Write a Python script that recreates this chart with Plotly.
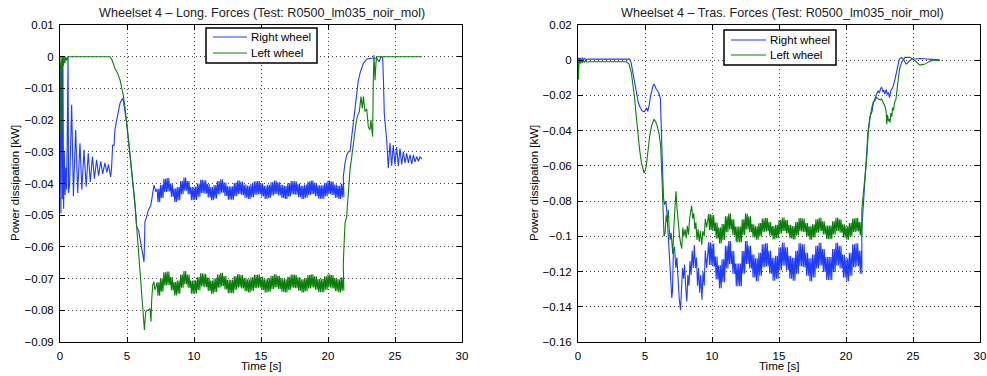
import numpy as np
import plotly.graph_objects as go

# ---------------- Data ----------------
# Time samples are (t [s], power [kW]) pairs; oscillating steady parts are
# given as upper / lower envelope values (fast oscillation extremes) on a
# regular sampling grid.

BAND_STEP = 0.25          # envelope sampling step [s]
CYCLES_PER_STEP = 2       # fast oscillation cycles drawn per envelope sample

# ---- Left plot: longitudinal forces ----
long_right_head = [
    (0.0, -0.02), (0.03, -0.049), (0.07, -0.0494), (0.1, -0.01), (0.14, 0.0), (0.18, -0.045),
    (0.22, -0.003), (0.27, -0.048), (0.32, -0.03), (0.38, -0.0436), (0.44, -0.035), (0.5, -0.042),
    (0.55, -0.005), (0.6, 0.0), (0.64, -0.043), (0.72, -0.040), (0.87, -0.0152), (1.0, -0.044),
    (1.17, -0.0231), (1.32, -0.043), (1.49, -0.0273), (1.63, -0.042), (1.79, -0.0294), (1.95, -0.041),
    (2.11, -0.0304), (2.26, -0.0395), (2.42, -0.0315), (2.57, -0.0385), (2.73, -0.0325), (2.88, -0.0375),
    (3.04, -0.033), (3.19, -0.037), (3.35, -0.0335), (3.5, -0.0365), (3.62, -0.034), (3.72, -0.0365),
    (3.78, -0.0379), (3.85, -0.035), (3.93, -0.0279), (4.03, -0.028), (4.1, -0.0231), (4.23, -0.020),
    (4.35, -0.0173), (4.48, -0.0147), (4.6, -0.0137), (4.68, -0.0131), (4.73, -0.014), (4.8, -0.016),
    (4.85, -0.0175), (4.98, -0.021), (5.22, -0.0305), (5.47, -0.040), (5.6, -0.047), (5.72, -0.0536),
    (5.8, -0.0545), (5.88, -0.055), (5.92, -0.0562), (6.0, -0.058), (6.09, -0.0604), (6.2, -0.063),
    (6.27, -0.0647), (6.31, -0.058), (6.34, -0.052), (6.47, -0.0505), (6.59, -0.0484), (6.7, -0.0475),
    (6.77, -0.047), (6.85, -0.045), (6.92, -0.0431), (7.01, -0.0405), (7.08, -0.0415), (7.14, -0.0426),
]
long_right_band_start = 7.25
long_right_upper = [
    -0.0417, -0.0404, -0.0385, -0.0383, -0.0400, -0.0416, -0.0411, -0.0392, -0.0381, -0.0392,
    -0.0411, -0.0410, -0.0400, -0.0388, -0.0390, -0.0402, -0.0411, -0.0405, -0.0392, -0.0387,
    -0.0397, -0.0409, -0.0409, -0.0398, -0.0391, -0.0394, -0.0403, -0.0407, -0.0401, -0.0393,
    -0.0392, -0.0399, -0.0407, -0.0404, -0.0396, -0.0391, -0.0396, -0.0404, -0.0407, -0.0399,
    -0.0392, -0.0393, -0.0401, -0.0407, -0.0403, -0.0394, -0.0391, -0.0398, -0.0406, -0.0406,
    -0.0398, -0.0391, -0.0394, -0.0403, -0.0407, -0.0401,
]
long_right_lower = [
    -0.0459, -0.0446, -0.0427, -0.0425, -0.0442, -0.0458, -0.0453, -0.0434, -0.0423, -0.0434,
    -0.0453, -0.0452, -0.0442, -0.0430, -0.0432, -0.0444, -0.0453, -0.0447, -0.0434, -0.0429,
    -0.0439, -0.0451, -0.0451, -0.0440, -0.0433, -0.0436, -0.0445, -0.0449, -0.0443, -0.0435,
    -0.0434, -0.0441, -0.0449, -0.0446, -0.0438, -0.0433, -0.0438, -0.0446, -0.0449, -0.0441,
    -0.0434, -0.0435, -0.0443, -0.0449, -0.0445, -0.0436, -0.0433, -0.0440, -0.0448, -0.0448,
    -0.0440, -0.0433, -0.0436, -0.0445, -0.0449, -0.0443,
]
long_right_tail = [
    (21.14, -0.0379), (21.27, -0.0336), (21.4, -0.031), (21.52, -0.030), (21.64, -0.030),
    (21.75, -0.026), (21.89, -0.021), (22.0, -0.016), (22.14, -0.0105), (22.25, -0.0078),
    (22.39, -0.0052), (22.5, -0.0035), (22.64, -0.0021), (22.89, -0.0008), (23.13, -0.0005),
    (23.63, -0.0005), (23.75, -0.001), (23.83, -0.0016), (23.93, 0.0), (24.08, -0.0002),
    (24.14, -0.008), (24.2, -0.0179), (24.38, -0.0263), (24.5, -0.0352), (24.63, -0.0272),
    (24.75, -0.0345), (24.87, -0.0279), (25.0, -0.034), (25.12, -0.0285), (25.25, -0.0345),
    (25.37, -0.029), (25.5, -0.034), (25.62, -0.030), (25.75, -0.0335), (25.87, -0.0305),
    (26.0, -0.0335), (26.12, -0.031), (26.25, -0.0338), (26.37, -0.031), (26.5, -0.0332),
    (26.62, -0.0315), (26.75, -0.033), (26.87, -0.0316), (27.0, -0.0322),
]

long_left_head = [
    (0.0, 0.0), (0.02, -0.024), (0.05, -0.0242), (0.08, -0.003), (0.12, -0.001), (0.16, -0.004),
    (0.2, 0.0), (0.25, -0.003), (0.3, 0.0), (0.36, -0.002), (0.42, 0.0), (0.5, -0.0012), (0.6, 0.0),
    (3.73, 0.0), (3.9, -0.0012), (4.1, -0.0037), (4.3, -0.0052), (4.48, -0.0073), (4.6, -0.0095),
    (4.72, -0.0121), (4.85, -0.016), (4.98, -0.021), (5.1, -0.0255), (5.22, -0.0305), (5.35, -0.035),
    (5.47, -0.040), (5.6, -0.0465), (5.72, -0.0536), (5.85, -0.061), (5.97, -0.0683), (6.07, -0.0735),
    (6.17, -0.0789), (6.24, -0.083), (6.3, -0.0862), (6.35, -0.083), (6.4, -0.0804), (6.5, -0.080),
    (6.6, -0.0799), (6.72, -0.0795), (6.76, -0.081), (6.79, -0.0836), (6.84, -0.0768), (6.92, -0.072),
    (7.01, -0.071), (7.08, -0.0735), (7.16, -0.0726),
]
long_left_band_start = 7.25
long_left_upper = [
    -0.0712, -0.0699, -0.0680, -0.0678, -0.0695, -0.0711, -0.0706, -0.0687, -0.0676, -0.0687,
    -0.0706, -0.0705, -0.0695, -0.0683, -0.0685, -0.0697, -0.0706, -0.0700, -0.0687, -0.0682,
    -0.0692, -0.0704, -0.0704, -0.0693, -0.0686, -0.0689, -0.0698, -0.0702, -0.0696, -0.0688,
    -0.0687, -0.0694, -0.0702, -0.0699, -0.0691, -0.0686, -0.0691, -0.0699, -0.0702, -0.0694,
    -0.0687, -0.0688, -0.0696, -0.0702, -0.0698, -0.0689, -0.0686, -0.0693, -0.0701, -0.0701,
    -0.0693, -0.0686, -0.0689, -0.0698, -0.0702, -0.0696,
]
long_left_lower = [
    -0.0754, -0.0741, -0.0722, -0.0720, -0.0737, -0.0753, -0.0748, -0.0729, -0.0718, -0.0729,
    -0.0748, -0.0747, -0.0737, -0.0725, -0.0727, -0.0739, -0.0748, -0.0742, -0.0729, -0.0724,
    -0.0734, -0.0746, -0.0746, -0.0735, -0.0728, -0.0731, -0.0740, -0.0744, -0.0738, -0.0730,
    -0.0729, -0.0736, -0.0744, -0.0741, -0.0733, -0.0728, -0.0733, -0.0741, -0.0744, -0.0736,
    -0.0729, -0.0730, -0.0738, -0.0744, -0.0740, -0.0731, -0.0728, -0.0735, -0.0743, -0.0743,
    -0.0735, -0.0728, -0.0731, -0.0740, -0.0744, -0.0738,
]
long_left_tail = [
    (21.14, -0.0657), (21.19, -0.060), (21.27, -0.0526), (21.39, -0.0505), (21.52, -0.041),
    (21.64, -0.0357), (21.76, -0.032), (21.89, -0.0284), (22.0, -0.024), (22.09, -0.021),
    (22.19, -0.0189), (22.34, -0.0173), (22.46, -0.0126), (22.56, -0.0163), (22.64, -0.0126),
    (22.76, -0.0173), (22.89, -0.0165), (23.01, -0.0221), (23.13, -0.0231), (23.2, -0.020),
    (23.26, -0.022), (23.33, -0.0252), (23.38, -0.0074), (23.43, 0.0005), (23.47, -0.003),
    (23.51, -0.0074), (23.58, -0.0021), (23.63, 0.0), (27.0, 0.0),
]

# ---- Right plot: transversal forces ----
tras_right_head = [
    (0.0, -0.001), (0.05, 0.0015), (0.1, -0.0005), (0.17, 0.0013), (0.25, 0.0001), (0.33, 0.0012),
    (0.42, 0.0003), (0.5, 0.001), (0.6, 0.0005), (0.8, 0.0007), (3.85, 0.0006), (3.95, -0.001),
    (4.05, -0.005), (4.2, -0.012), (4.35, -0.019), (4.5, -0.024), (4.65, -0.027), (4.8, -0.0288),
    (4.95, -0.0293), (5.05, -0.0275), (5.12, -0.027), (5.2, -0.029), (5.3, -0.026), (5.4, -0.021),
    (5.5, -0.017), (5.6, -0.0145), (5.68, -0.0136), (5.75, -0.015), (5.85, -0.0165), (5.95, -0.0175),
    (6.05, -0.019), (6.15, -0.022), (6.22, -0.035), (6.3, -0.06), (6.38, -0.078), (6.45, -0.082),
    (6.55, -0.080), (6.62, -0.085), (6.7, -0.095), (6.8, -0.11), (6.9, -0.125), (7.0, -0.135),
    (7.05, -0.131), (7.12, -0.108), (7.2, -0.106), (7.3, -0.118), (7.38, -0.112), (7.45, -0.125),
    (7.55, -0.135), (7.65, -0.142), (7.72, -0.128), (7.8, -0.118), (7.88, -0.124), (7.95, -0.116),
    (8.05, -0.13), (8.12, -0.137), (8.2, -0.122), (8.28, -0.128), (8.36, -0.114), (8.44, -0.122),
    (8.52, -0.108), (8.6, -0.118), (8.68, -0.105), (8.76, -0.118), (8.84, -0.112), (8.92, -0.128),
    (9.0, -0.118), (9.08, -0.132), (9.16, -0.122), (9.25, -0.136), (9.33, -0.12), (9.42, -0.128),
    (9.5, -0.108), (9.6, -0.118),
]
tras_right_band_start = 9.75
tras_right_upper = [
    -0.1033, -0.1041, -0.1115, -0.1164, -0.1130, -0.1053, -0.1027, -0.1083, -0.1154, -0.1154,
    -0.1083, -0.1027, -0.1053, -0.1103, -0.1125, -0.1093, -0.1045, -0.1040, -0.1082, -0.1122,
    -0.1111, -0.1062, -0.1035, -0.1062, -0.1111, -0.1122, -0.1082, -0.1040, -0.1045, -0.1093,
    -0.1125, -0.1103, -0.1053, -0.1036, -0.1072, -0.1118, -0.1118, -0.1072, -0.1036, -0.1053,
    -0.1103, -0.1125, -0.1093, -0.1045, -0.1040, -0.1082,
]
tras_right_lower = [
    -0.1163, -0.1171, -0.1245, -0.1294, -0.1260, -0.1183, -0.1157, -0.1213, -0.1284, -0.1284,
    -0.1213, -0.1157, -0.1183, -0.1233, -0.1255, -0.1223, -0.1175, -0.1170, -0.1212, -0.1252,
    -0.1241, -0.1192, -0.1165, -0.1192, -0.1241, -0.1252, -0.1212, -0.1170, -0.1175, -0.1223,
    -0.1255, -0.1233, -0.1183, -0.1166, -0.1202, -0.1248, -0.1248, -0.1202, -0.1166, -0.1183,
    -0.1233, -0.1255, -0.1223, -0.1175, -0.1170, -0.1212,
]
tras_right_tail = [
    (21.18, -0.096), (21.24, -0.0886), (21.32, -0.079), (21.42, -0.0677), (21.54, -0.0563),
    (21.65, -0.040), (21.79, -0.032), (21.95, -0.029), (22.05, -0.024), (22.16, -0.0212),
    (22.3, -0.019), (22.4, -0.0175), (22.5, -0.0185), (22.58, -0.016), (22.66, -0.0155),
    (22.75, -0.018), (22.82, -0.017), (22.9, -0.0193), (23.0, -0.0165), (23.08, -0.0195),
    (23.16, -0.0183), (23.25, -0.0212), (23.35, -0.017), (23.45, -0.016), (23.53, -0.0146),
    (23.65, -0.011), (23.78, -0.007), (23.9, -0.002), (23.98, 0.0006), (24.15, 0.0016),
    (24.3, 0.0005), (24.45, -0.0018), (24.53, -0.0022), (24.65, -0.001), (24.9, 0.0006),
    (25.5, 0.001), (26.0, 0.0008), (27.0, 0.0002),
]

tras_left_head = [
    (0.0, 0.0), (0.03, -0.011), (0.07, -0.002), (0.12, 0.001), (0.18, -0.002), (0.25, 0.0005),
    (0.32, -0.0015), (0.4, 0.0), (0.48, -0.0012), (0.56, -0.0002), (0.65, -0.001), (1.0, -0.0009),
    (3.6, -0.0009), (3.8, -0.002), (3.98, -0.007), (4.1, -0.013), (4.23, -0.022), (4.35, -0.032),
    (4.48, -0.043), (4.6, -0.051), (4.73, -0.058), (4.85, -0.0625), (4.93, -0.064), (5.02, -0.0625),
    (5.1, -0.060), (5.2, -0.053), (5.35, -0.043), (5.5, -0.037), (5.6, -0.034), (5.67, -0.0335),
    (5.8, -0.035), (5.92, -0.0374), (6.05, -0.042), (6.17, -0.0487), (6.28, -0.07), (6.35, -0.09),
    (6.42, -0.1), (6.5, -0.098), (6.58, -0.088), (6.65, -0.092), (6.74, -0.085), (6.8, -0.095),
    (6.87, -0.102), (6.95, -0.098), (7.07, -0.11), (7.15, -0.095), (7.22, -0.082), (7.31, -0.0744),
    (7.4, -0.085), (7.49, -0.094), (7.58, -0.1), (7.66, -0.104), (7.74, -0.107), (7.82, -0.095),
    (7.9, -0.1), (7.99, -0.096), (8.08, -0.101), (8.16, -0.094), (8.25, -0.099), (8.33, -0.09),
    (8.4, -0.086), (8.48, -0.0825), (8.56, -0.09), (8.64, -0.087), (8.72, -0.096), (8.8, -0.092),
    (8.88, -0.102), (8.96, -0.096), (9.05, -0.103), (9.13, -0.097), (9.23, -0.1047), (9.32, -0.097),
    (9.42, -0.1), (9.5, -0.09), (9.6, -0.095),
]
tras_left_band_start = 9.75
tras_left_upper = [
    -0.0874, -0.0879, -0.0922, -0.0950, -0.0930, -0.0886, -0.0871, -0.0903, -0.0944, -0.0944,
    -0.0903, -0.0871, -0.0886, -0.0931, -0.0943, -0.0925, -0.0899, -0.0896, -0.0919, -0.0942,
    -0.0935, -0.0908, -0.0893, -0.0908, -0.0935, -0.0942, -0.0919, -0.0896, -0.0899, -0.0925,
    -0.0943, -0.0931, -0.0903, -0.0894, -0.0914, -0.0939, -0.0939, -0.0914, -0.0894, -0.0903,
    -0.0931, -0.0943, -0.0925, -0.0899, -0.0896, -0.0919,
]
tras_left_lower = [
    -0.0964, -0.0969, -0.1012, -0.1040, -0.1020, -0.0976, -0.0961, -0.0993, -0.1034, -0.1034,
    -0.0993, -0.0961, -0.0976, -0.1007, -0.1019, -0.1001, -0.0975, -0.0972, -0.0995, -0.1018,
    -0.1011, -0.0984, -0.0969, -0.0984, -0.1011, -0.1018, -0.0995, -0.0972, -0.0975, -0.1001,
    -0.1019, -0.1007, -0.0979, -0.0970, -0.0990, -0.1015, -0.1015, -0.0990, -0.0970, -0.0979,
    -0.1007, -0.1019, -0.1001, -0.0975, -0.0972, -0.0995,
]
tras_left_tail = [
    (21.18, -0.085), (21.25, -0.0791), (21.42, -0.0658), (21.54, -0.0563), (21.65, -0.042),
    (21.79, -0.0326), (21.95, -0.026), (22.05, -0.0235), (22.16, -0.0231), (22.3, -0.021),
    (22.41, -0.0221), (22.55, -0.0225), (22.65, -0.022), (22.78, -0.024), (22.9, -0.026),
    (22.99, -0.0288), (23.04, -0.0364), (23.1, -0.031), (23.16, -0.0345), (23.22, -0.0333),
    (23.28, -0.0354), (23.35, -0.030), (23.42, -0.032), (23.48, -0.0269), (23.55, -0.0285),
    (23.62, -0.024), (23.73, -0.0221), (23.82, -0.016), (23.9, -0.0108), (24.0, -0.005),
    (24.15, -0.0012), (24.4, 0.0016), (24.78, 0.0016), (25.15, -0.0003), (25.52, -0.0028),
    (25.9, -0.0022), (26.2, -0.0008), (26.52, 0.0002), (27.0, -0.0003),
]

titles = ["Wheelset 4 \u2013 Long. Forces (Test: R0500_lm035_noir_mol)",
          "Wheelset 4 \u2013 Tras. Forces (Test: R0500_lm035_noir_mol)"]
series_names = ["Right wheel", "Left wheel"]
x_label = "Time [s]"
y_label = "Power dissipation [kW]"
x_ticks = [0, 5, 10, 15, 20, 25, 30]
y_ticks_left = [0.01, 0, -0.01, -0.02, -0.03, -0.04, -0.05, -0.06, -0.07, -0.08, -0.09]
y_ticks_right = [0.02, 0, -0.02, -0.04, -0.06, -0.08, -0.1, -0.12, -0.14, -0.16]


def build(head, band_start, upper, lower, tail):
    t = [p[0] for p in head]
    v = [p[1] for p in head]
    n = 2 * CYCLES_PER_STEP
    for i, (u, lo) in enumerate(zip(upper, lower)):
        tb = band_start + BAND_STEP * i
        for k in range(n):
            t.append(tb + BAND_STEP * k / n)
            v.append(u if k % 2 == 0 else lo)
    t += [p[0] for p in tail]
    v += [p[1] for p in tail]
    return t, v


BLUE = "#1f3cff"
GREEN = "#0a800a"
COLORS = [BLUE, GREEN]
FONT = "Liberation Sans, Arial, Helvetica, sans-serif"
LW = 1.1

fig = go.Figure()
sets = [
    ("x", "y",
     build(long_right_head, long_right_band_start, long_right_upper, long_right_lower, long_right_tail),
     build(long_left_head, long_left_band_start, long_left_upper, long_left_lower, long_left_tail)),
    ("x2", "y2",
     build(tras_right_head, tras_right_band_start, tras_right_upper, tras_right_lower, tras_right_tail),
     build(tras_left_head, tras_left_band_start, tras_left_upper, tras_left_lower, tras_left_tail)),
]
for xa, ya, right, left in sets:
    fig.add_trace(go.Scatter(x=right[0], y=right[1], mode="lines", name=series_names[0],
                             line=dict(color=BLUE, width=LW), xaxis=xa, yaxis=ya, showlegend=False))
    fig.add_trace(go.Scatter(x=left[0], y=left[1], mode="lines", name=series_names[1],
                             line=dict(color=GREEN, width=LW), xaxis=xa, yaxis=ya, showlegend=False))

W, H = 987, 376
ydom = [1 - 342 / H, 1 - 25 / H]
TICKFONT = dict(size=11.5, color="black", family=FONT)
common_x = dict(range=[0, 30], tickvals=x_ticks, showgrid=True, gridcolor="#444",
                griddash="1px,3px", gridwidth=1, zeroline=False, showline=True,
                linecolor="black", linewidth=1, mirror="ticks", ticks="inside",
                ticklen=5, tickcolor="black", ticklabelstandoff=3, tickfont=TICKFONT,
                automargin=False)
common_y = dict(showgrid=True, gridcolor="#444", griddash="1px,3px", gridwidth=1,
                zeroline=False, showline=True, linecolor="black", linewidth=1, mirror="ticks",
                ticks="inside", ticklen=5, tickcolor="black", ticklabelstandoff=3,
                tickfont=TICKFONT, automargin=False)

fig.update_layout(
    width=W, height=H, autosize=False, margin=dict(l=0, r=0, t=0, b=0, pad=0, autoexpand=False),
    paper_bgcolor="white", plot_bgcolor="white",
    font=dict(family=FONT, size=11, color="black"),
    xaxis=dict(domain=[60 / W, 462 / W], anchor="y", **common_x),
    yaxis=dict(domain=ydom, anchor="x", range=[-0.09, 0.01], tickvals=y_ticks_left, **common_y),
    xaxis2=dict(domain=[578 / W, 980 / W], anchor="y2", **common_x),
    yaxis2=dict(domain=ydom, anchor="x2", range=[-0.16, 0.02], tickvals=y_ticks_right, **common_y),
    showlegend=False,
)

ann = []
shapes = []
for cx, title in [(262, titles[0]), (782, titles[1])]:
    ann.append(dict(text=title, x=cx / W, y=1 - 13 / H, xref="paper", yref="paper",
                    xanchor="center", yanchor="middle",
                    showarrow=False, font=dict(size=12.6, color="#222", family=FONT)))
for cx in [261, 779]:
    ann.append(dict(text=x_label, x=cx / W, y=1 - 366 / H, xref="paper", yref="paper",
                    xanchor="center", yanchor="middle",
                    showarrow=False, font=dict(size=11.5, color="black", family=FONT)))
for cx in [15, 534]:
    ann.append(dict(text=y_label, x=cx / W, y=1 - 183 / H, xref="paper", yref="paper",
                    xanchor="center", yanchor="middle",
                    textangle=-90, showarrow=False, font=dict(size=11.5, color="black", family=FONT)))

# Legend boxes (MATLAB style): box, sample lines and labels, in pixel layout positions
legend_boxes = [
    dict(x0=206, x1=317, y0=28, y1=63, lx0=213, lx1=247, tx=249, rows=[37, 53]),
    dict(x0=724, x1=836, y0=30, y1=65, lx0=731, lx1=766, tx=768, rows=[40, 55]),
]
for lb in legend_boxes:
    shapes.append(dict(type="rect", xref="paper", yref="paper",
                       x0=lb["x0"] / W, x1=lb["x1"] / W, y0=1 - lb["y0"] / H, y1=1 - lb["y1"] / H,
                       line=dict(color="black", width=1.5), fillcolor="white", layer="above"))
    for k, ry in enumerate(lb["rows"]):
        shapes.append(dict(type="line", xref="paper", yref="paper",
                           x0=lb["lx0"] / W, x1=lb["lx1"] / W, y0=1 - ry / H, y1=1 - ry / H,
                           line=dict(color=COLORS[k], width=LW), layer="above"))
        ann.append(dict(text=series_names[k], x=lb["tx"] / W, y=1 - ry / H, xref="paper",
                        yref="paper", xanchor="left", yanchor="middle", showarrow=False,
                        font=dict(size=11.5, color="black", family=FONT)))

fig.update_layout(annotations=ann, shapes=shapes)

fig.write_html("out.html")
